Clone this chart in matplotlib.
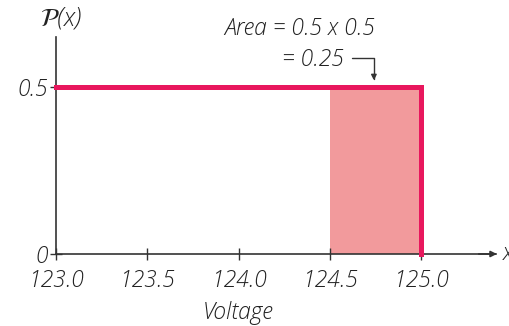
import matplotlib.pyplot as plt

# data
volt = [123.0, 125.0, 125.0]
dens = [0.5, 0.5, 0.0]
shade_lo, shade_hi = 124.5, 125.0
xticks = [123.0, 123.5, 124.0, 124.5, 125.0]
xlabels = ["123.0", "123.5", "124.0", "124.5", "125.0"]
yticks = [0, 0.5]
ylabels = ["0", "0.5"]

line_col = "#E8175D"
fill_col = "#F29A9C"
ax_col = "#333333"
fnt = dict(family="Open Sans", style="italic", weight="light", color="#222222")
fs = 16.5

fig = plt.figure(figsize=(5.09, 3.26), dpi=100)
ax = fig.add_axes([0, 0, 1, 1])
ax.set_xlim(122.693, 125.481)
ax.set_ylim(-0.2156, 0.7605)

ax.fill_between([shade_lo, shade_hi], 0, 0.5, color=fill_col, lw=0, zorder=1)
ax.plot(volt, dens, color=line_col, lw=3.6, solid_joinstyle="miter", zorder=3)

# axes through the origin
for s in ["top", "right"]:
    ax.spines[s].set_visible(False)
ax.spines["left"].set_position(("data", 123.0))
ax.spines["left"].set_bounds(0, 0.65)
ax.spines["bottom"].set_position(("data", 0))
ax.spines["bottom"].set_bounds(123.0, 125.41)
for s in ["left", "bottom"]:
    ax.spines[s].set_color(ax_col)
    ax.spines[s].set_linewidth(1.2)
    ax.spines[s].set_zorder(2)
ax.annotate("", xy=(125.43, 0), xytext=(125.3, 0),
            arrowprops=dict(arrowstyle="-|>", color=ax_col, lw=1.2,
                            mutation_scale=9))

ax.set_xticks(xticks)
ax.set_xticklabels(xlabels, fontsize=fs, **fnt)
ax.set_yticks(yticks)
ax.set_yticklabels(ylabels, fontsize=fs, **fnt)
ax.tick_params(direction="inout", length=8, width=1, color=ax_col)
ax.tick_params(axis="x", pad=7)
ax.tick_params(axis="y", pad=2)

ax.text(124.0, -0.178, "Voltage", ha="center", va="center", fontsize=fs, **fnt)
ax.text(125.445, 0, "x", ha="left", va="center", fontsize=fs, **fnt)
ax.text(122.91, 0.705, r"$\mathcal{P}$(x)", ha="left", va="center",
        fontsize=18, **fnt)
ax.text(124.336, 0.674, "Area = 0.5 x 0.5", ha="center", va="center", fontsize=fs, **fnt)
ax.text(124.575, 0.582, "= 0.25", ha="right", va="center", fontsize=fs, **fnt)
ax.annotate("", xy=(124.741, 0.52), xytext=(124.62, 0.587),
            arrowprops=dict(arrowstyle="-|>", color=ax_col, lw=1,
                            mutation_scale=8,
                            connectionstyle="angle,angleA=0,angleB=90,rad=0",
                            shrinkA=0, shrinkB=0))

fig.savefig("out.png", dpi=100)
